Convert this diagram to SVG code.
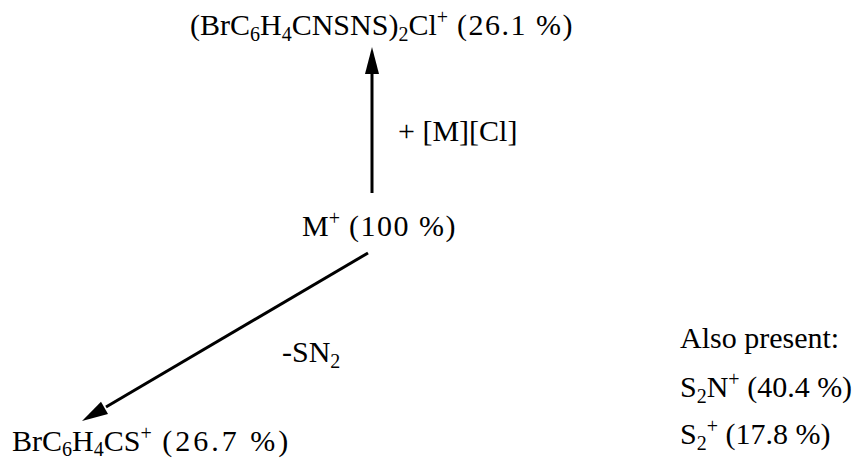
<svg xmlns="http://www.w3.org/2000/svg" width="862" height="461" viewBox="0 0 862 461">
<style>
text{font-family:"Liberation Serif","Times New Roman",serif;font-size:30px;fill:#000}
.sub{font-size:20px}
.sup{font-size:20px}
.pct{letter-spacing:1.5px}
.line{stroke:#000;stroke-width:3;fill:none}
.head{fill:#000}
</style>
<rect width="862" height="461" fill="#fff"/>
<g id="connectors">
<line class="line" x1="372" y1="193" x2="372" y2="70"/>
<path class="head" d="M372,47 L365,74 L379,74 Z"/>
<line class="line" x1="368" y1="253" x2="106" y2="407"/>
<path class="head" d="M82,421 L108,414 L101,401.8 Z"/>
</g>
<g id="top">
<text x="190" y="35">(BrC<tspan class="sub" dy="6">6</tspan><tspan dy="-6">H</tspan><tspan class="sub" dy="6">4</tspan><tspan dy="-6">CNSNS)</tspan><tspan class="sub" dy="6">2</tspan><tspan dy="-6">Cl</tspan><tspan class="sup" dy="-11">+</tspan><tspan class="pct" dy="11"> (26.1 %)</tspan></text>
</g>
<g id="label-mcl">
<text x="398" y="141">+ [M][Cl]</text>
</g>
<g id="m">
<text x="302" y="236">M<tspan class="sup" dy="-11">+</tspan><tspan class="pct" dy="11"> (100 %)</tspan></text>
</g>
<g id="label-sn2">
<text x="282" y="362">-SN<tspan class="sub" dy="6">2</tspan></text>
</g>
<g id="bottom">
<text x="12" y="451">BrC<tspan class="sub" dy="5">6</tspan><tspan dy="-5">H</tspan><tspan class="sub" dy="5">4</tspan><tspan dy="-5">CS</tspan><tspan class="sup" dy="-11">+</tspan><tspan dy="11" style="letter-spacing:3px"> (26.7 %)</tspan></text>
</g>
<g id="also">
<text x="680" y="348">Also present:</text>
<text x="680" y="397">S<tspan class="sub" dy="6">2</tspan><tspan dy="-6">N</tspan><tspan class="sup" dy="-11">+</tspan><tspan dy="11"> (40.4 %)</tspan></text>
<text x="680" y="444">S<tspan class="sub" dy="6">2</tspan><tspan class="sup" dy="-17">+</tspan><tspan dy="11"> (17.8 %)</tspan></text>
</g>
</svg>
